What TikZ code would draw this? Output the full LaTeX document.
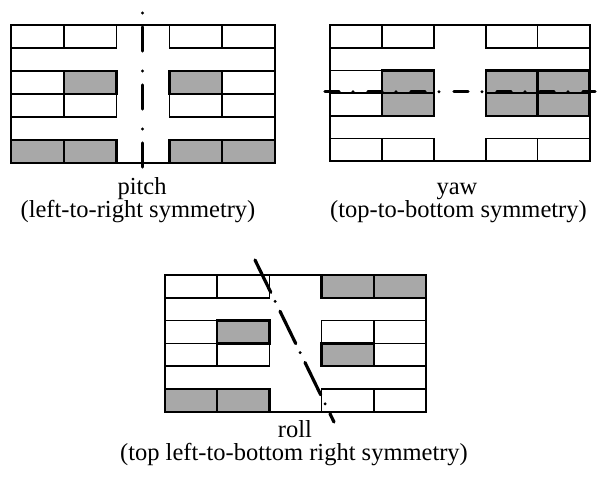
\documentclass[tikz,border=0pt]{standalone}
\usepackage{fontspec}
\setmainfont{Liberation Serif}
\definecolor{cellgray}{gray}{0.66}
\tikzset{
  cell/.style={draw=black, line width=1.6pt, fill=white},
  gcell/.style={draw=black, line width=2.4pt, fill=cellgray},
  frame/.style={draw=black, line width=2pt},
  axis/.style={draw=black, line width=3.2pt, line cap=round},
  lbl/.style={font=\fontsize{24.5}{29}\selectfont, anchor=base, inner sep=0pt}
}
% #1 x0, #2 y0, #3 cell width, #4 cell height, #5 list col/row/style
\newcommand\brickpanel[5]{%
  \draw[frame] (#1,#2) rectangle ++({5*#3},{6*#4});
  \foreach \c/\r/\s in {#5} {
    \draw[\s] ({#1+(\c-1)*#3},{#2+(\r-1)*#4}) rectangle ++(#3,#4);
  }%
}
\begin{document}
\begin{tikzpicture}[x=1pt,y=-1pt]
\useasboundingbox (0,0) rectangle (597,477);
% pitch
\brickpanel{11}{25}{52.8}{23}{1/1/cell,2/1/cell,4/1/cell,5/1/cell,1/3/cell,5/3/cell,1/4/cell,2/4/cell,4/4/cell,5/4/cell,2/3/gcell,4/3/gcell,1/6/gcell,2/6/gcell,4/6/gcell,5/6/gcell}
\coordinate (pA) at (142.5,13);
\coordinate (pB) at (142.5,176);
\draw[axis, dash pattern=on 0pt off 14pt on 24pt off 20pt] (pA) -- (pB);
\node[lbl] (pitch) at (142,194) {pitch};
\node[lbl] (pitchsub) at (138,217.5) {(left-to-right symmetry)};
% yaw
\brickpanel{330}{25}{51.9}{22.7}{1/1/cell,2/1/cell,4/1/cell,5/1/cell,1/3/cell,1/4/cell,1/6/cell,2/6/cell,4/6/cell,5/6/cell,2/3/gcell,4/3/gcell,5/3/gcell,2/4/gcell,4/4/gcell,5/4/gcell}
\coordinate (yA) at (325,91.7);
\coordinate (yB) at (595,91.7);
\draw[axis, dash pattern=on 14pt off 14pt on 0pt off 15pt] (yA) -- (yB);
\node[lbl] (yaw) at (457,194) {yaw};
\node[lbl] (yawsub) at (458.5,217.5) {(top-to-bottom symmetry)};
% roll
\brickpanel{165}{275}{52.2}{22.8}{1/1/cell,2/1/cell,1/3/cell,4/3/cell,5/3/cell,1/4/cell,2/4/cell,5/4/cell,4/6/cell,5/6/cell,4/1/gcell,5/1/gcell,2/3/gcell,4/4/gcell,1/6/gcell,2/6/gcell}
\coordinate (rA) at (255,260);
\coordinate (rB) at (334,422);
\draw[axis, dash pattern=on 36pt off 10pt on 0pt off 11pt] (rA) -- (rB);
\node[lbl] (roll) at (295,437) {roll};
\node[lbl] (rollsub) at (294,460.5) {(top left-to-bottom right symmetry)};
\end{tikzpicture}
\end{document}
